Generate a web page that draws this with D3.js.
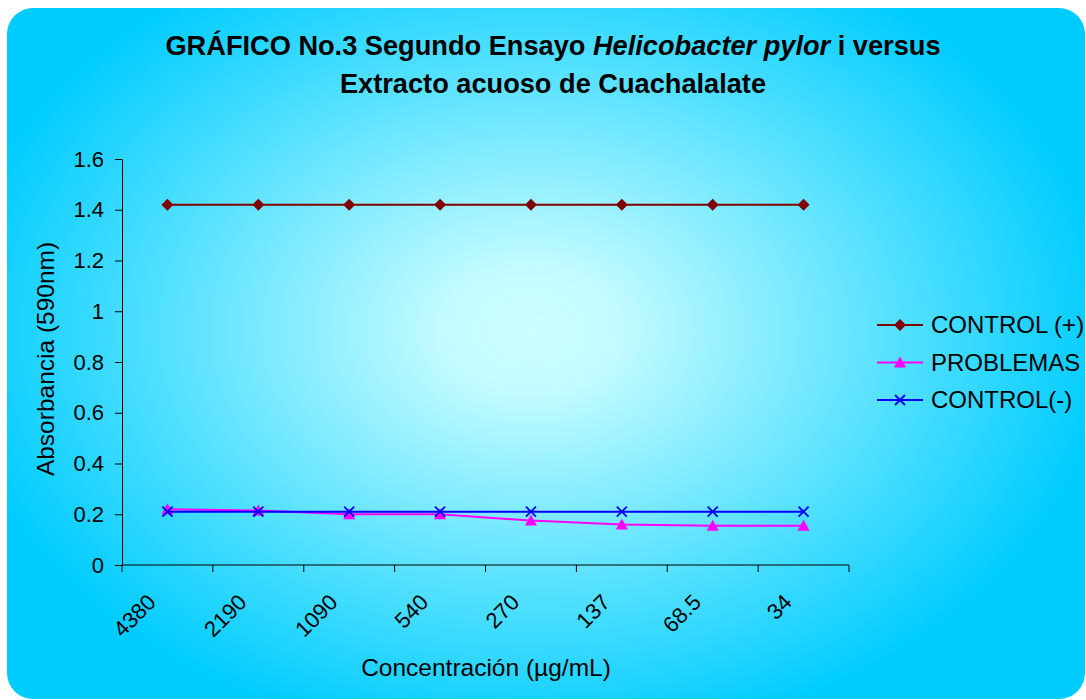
<!DOCTYPE html>
<html>
<head>
<meta charset="utf-8">
<script src="https://cdn.jsdelivr.net/npm/d3@7"></script>
<style>
  html, body { margin: 0; padding: 0; background: #ffffff; }
  svg { display: block; font-family: Arial, "Liberation Sans", sans-serif; }
</style>
</head>
<body>
<svg id="chart" width="1086" height="700"></svg>
<script>
// Concentrations tested (µg/mL)
const categories = ["4380", "2190", "1090", "540", "270", "137", "68.5", "34"];
// Absorbance readings at 590 nm
const controlPos = [1.42, 1.42, 1.42, 1.42, 1.42, 1.42, 1.42, 1.42];
const problemas  = [0.22, 0.215, 0.2, 0.2, 0.175, 0.16, 0.155, 0.155];
const controlNeg = [0.21, 0.21, 0.21, 0.21, 0.21, 0.21, 0.21, 0.21];
const yTicks = [0, 0.2, 0.4, 0.6, 0.8, 1, 1.2, 1.4, 1.6];

const series = [
  { name: "CONTROL (+)", values: controlPos, color: "#800000", marker: "diamond" },
  { name: "PROBLEMAS",   values: problemas,  color: "#ff00ff", marker: "triangle" },
  { name: "CONTROL(-)",  values: controlNeg, color: "#0000ff", marker: "cross" }
];

const svg = d3.select("#chart");

// Background panel with radial glow
const defs = svg.append("defs");
const grad = defs.append("radialGradient")
  .attr("id", "bg")
  .attr("gradientUnits", "userSpaceOnUse")
  .attr("cx", 530).attr("cy", 330).attr("r", 580)
  .attr("gradientTransform", "translate(530,330) scale(1,0.72) translate(-530,-330)");
grad.append("stop").attr("offset", "0%").attr("stop-color", "#ccffff");
grad.append("stop").attr("offset", "15%").attr("stop-color", "#c2fbff");
grad.append("stop").attr("offset", "100%").attr("stop-color", "#00ccff");

svg.append("rect")
  .attr("x", 7).attr("y", 8)
  .attr("width", 1078).attr("height", 691)
  .attr("rx", 26).attr("ry", 26)
  .attr("fill", "url(#bg)");

// Title
const title = svg.append("text")
  .attr("text-anchor", "middle")
  .attr("font-weight", "bold")
  .attr("font-size", 27.2)
  .attr("fill", "#000");
const t1 = title.append("tspan").attr("x", 553).attr("y", 55);
t1.append("tspan").text("GRÁFICO No.3 Segundo Ensayo ");
t1.append("tspan").attr("font-style", "italic").text("Helicobacter pylor");
t1.append("tspan").text(" i versus");
title.append("tspan").attr("x", 553).attr("y", 93).text("Extracto acuoso de Cuachalalate");

// Plot area
const plot = { left: 122, right: 849, top: 159, bottom: 565 };

const x = d3.scaleBand()
  .domain(categories)
  .range([plot.left, plot.right]);

const y = d3.scaleLinear()
  .domain([0, 1.6])
  .range([plot.bottom, plot.top]);

// Y axis
const yAxis = svg.append("g")
  .attr("transform", `translate(${plot.left},0)`)
  .call(d3.axisLeft(y).tickValues(yTicks).tickFormat(d3.format("")).tickSize(7).tickSizeOuter(0));
yAxis.select(".domain").attr("stroke", "#000");
yAxis.selectAll(".tick line").attr("stroke", "#000");
yAxis.selectAll(".tick text")
  .attr("font-size", 22)
  .attr("font-family", "Arial, 'Liberation Sans', sans-serif")
  .attr("fill", "#000")
  .attr("x", -18);

// X axis with ticks between categories
const xAxis = svg.append("g")
  .attr("transform", `translate(0,${plot.bottom})`);
xAxis.append("line")
  .attr("x1", plot.left).attr("x2", plot.right)
  .attr("stroke", "#000");
const boundaries = d3.range(categories.length + 1)
  .map(i => plot.left + i * x.step());
xAxis.selectAll(".xt")
  .data(boundaries)
  .join("line")
  .attr("class", "xt")
  .attr("x1", d => d).attr("x2", d => d)
  .attr("y1", 0).attr("y2", 7)
  .attr("stroke", "#000");
xAxis.selectAll(".xl")
  .data(categories)
  .join("text")
  .attr("class", "xl")
  .attr("font-size", 22)
  .attr("text-anchor", "end")
  .attr("fill", "#000")
  .attr("transform", d => `translate(${x(d) + x.bandwidth() / 2 - 22},${27}) rotate(-45)`)
  .attr("dy", "0.75em")
  .text(d => d);

// Axis titles
svg.append("text")
  .attr("transform", `translate(54,${(plot.top + plot.bottom) / 2 - 3}) rotate(-90)`)
  .attr("text-anchor", "middle")
  .attr("font-size", 24.5)
  .attr("fill", "#000")
  .text("Absorbancia (590nm)");

svg.append("text")
  .attr("x", 486).attr("y", 676)
  .attr("text-anchor", "middle")
  .attr("font-size", 24.5)
  .attr("fill", "#000")
  .text("Concentración (µg/mL)");

// Marker drawing
function drawMarker(g, type, color) {
  if (type === "diamond") {
    g.append("path").attr("d", "M0,-6L6,0L0,6L-6,0Z").attr("fill", color);
  } else if (type === "triangle") {
    g.append("path").attr("d", "M0,-6L6,5L-6,5Z").attr("fill", color);
  } else if (type === "cross") {
    g.append("path").attr("d", "M-5,-5L5,5M-5,5L5,-5")
      .attr("stroke", color).attr("stroke-width", 1.8).attr("fill", "none");
  }
}

const line = d3.line()
  .x((d, i) => x(categories[i]) + x.bandwidth() / 2)
  .y(d => y(d));

series.forEach(s => {
  svg.append("path")
    .datum(s.values)
    .attr("d", line)
    .attr("fill", "none")
    .attr("stroke", s.color)
    .attr("stroke-width", 2);
  s.values.forEach((v, i) => {
    const g = svg.append("g")
      .attr("transform", `translate(${x(categories[i]) + x.bandwidth() / 2},${y(v)})`);
    drawMarker(g, s.marker, s.color);
  });
});

// Legend
const legend = svg.append("g").attr("transform", "translate(877,325)");
series.forEach((s, i) => {
  const row = legend.append("g").attr("transform", `translate(0,${i * 37.5})`);
  row.append("line").attr("x1", 0).attr("x2", 46).attr("stroke", s.color).attr("stroke-width", 2);
  const m = row.append("g").attr("transform", "translate(23,0)");
  drawMarker(m, s.marker, s.color);
  row.append("text")
    .attr("x", 54).attr("y", 0).attr("dy", "0.35em")
    .attr("font-size", 24)
    .attr("fill", "#000")
    .text(s.name);
});
</script>
</body>
</html>
